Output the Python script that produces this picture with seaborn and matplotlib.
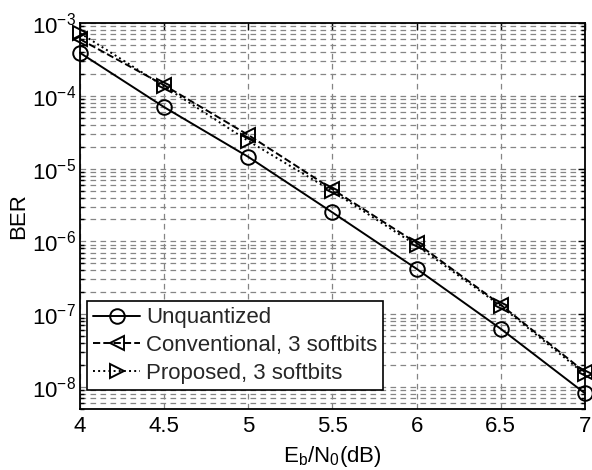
import matplotlib
matplotlib.use("Agg")
import matplotlib.pyplot as plt
import seaborn as sns
import numpy as np
import pandas as pd
from matplotlib.ticker import LogLocator, FixedLocator

ebn0 = [4.0, 4.5, 5.0, 5.5, 6.0, 6.5, 7.0]
ber_unquantized = [3.9e-4, 7.0e-5, 1.45e-5, 2.5e-6, 4.2e-7, 6.3e-8, 8.2e-9]
ber_conventional = [6.0e-4, 1.4e-4, 2.9e-5, 5.2e-6, 9.5e-7, 1.35e-7, 1.6e-8]
ber_proposed = [7.3e-4, 1.35e-4, 2.4e-5, 4.9e-6, 8.8e-7, 1.3e-7, 1.5e-8]
labels = ["Unquantized", "Conventional, 3 softbits", "Proposed, 3 softbits"]
xticks = [4, 4.5, 5, 5.5, 6, 6.5, 7]

sns.set_theme(style="white")
plt.rcParams['font.family'] = ['Liberation Sans', 'DejaVu Sans']
plt.rcParams['mathtext.fontset'] = 'custom'
plt.rcParams['mathtext.rm'] = 'Liberation Sans'
plt.rcParams['mathtext.it'] = 'Liberation Sans:italic'

FS = 16

df = pd.DataFrame({
    "x": ebn0 * 3,
    "ber": ber_unquantized + ber_conventional + ber_proposed,
    "series": [labels[0]] * 7 + [labels[1]] * 7 + [labels[2]] * 7,
})

fig = plt.figure(figsize=(5.92, 4.70), dpi=100)
ax = fig.add_axes([0.135, 0.130, 0.853, 0.821])

styles = {labels[0]: ('-', 'o'), labels[1]: ('--', '<'), labels[2]: (':', '>')}
for lab in labels:
    sub = df[df.series == lab]
    ls, mk = styles[lab]
    sns.lineplot(data=sub, x="x", y="ber", ax=ax, color='black', linestyle=ls,
                 marker=mk, markersize=10.5, markerfacecolor='none',
                 markeredgecolor='black', markeredgewidth=1.4, linewidth=1.4,
                 label=lab, clip_on=False, zorder=5)

ax.set_yscale('log')
ax.set_xlim(4, 7)
ax.set_ylim(5e-9, 1e-3)
ax.xaxis.set_major_locator(FixedLocator(xticks))
ax.set_xticklabels([f"{t:g}" for t in xticks])
ax.yaxis.set_major_locator(LogLocator(base=10, numticks=20))
ax.yaxis.set_minor_locator(LogLocator(base=10, subs=np.arange(2, 10), numticks=20))

grid_kw = dict(color='#858585', linestyle=(0, (4.5, 3.5)), linewidth=0.9)
ax.grid(True, which='major', axis='both', **grid_kw)
ax.grid(True, which='minor', axis='y', **grid_kw)
ax.set_axisbelow(True)

ax.tick_params(axis='both', which='both', direction='in', top=True, right=True,
               labelsize=FS, colors='black', width=1.0)
ax.tick_params(axis='both', which='major', length=5, pad=5)
ax.tick_params(axis='y', which='major', pad=3)
ax.tick_params(axis='y', which='minor', length=3, left=True, right=True)
for s in ax.spines.values():
    s.set_color('black')
    s.set_linewidth(1.3)

ax.set_xlabel(r'$\mathrm{E_b/N_0}$(dB)', fontsize=FS, color='black', labelpad=5)
ax.set_ylabel('BER', fontsize=FS, color='black', labelpad=2)

leg = ax.legend(loc='lower left', bbox_to_anchor=(0.014, 0.049), borderaxespad=0,
                fontsize=FS, frameon=True, fancybox=False, edgecolor='black',
                framealpha=1, handlelength=2.1, handletextpad=0.27,
                borderpad=0.28, labelspacing=0.3)
leg.get_frame().set_linewidth(1.2)
leg.set_zorder(10)

fig.savefig("out.png", dpi=100, facecolor='white')
